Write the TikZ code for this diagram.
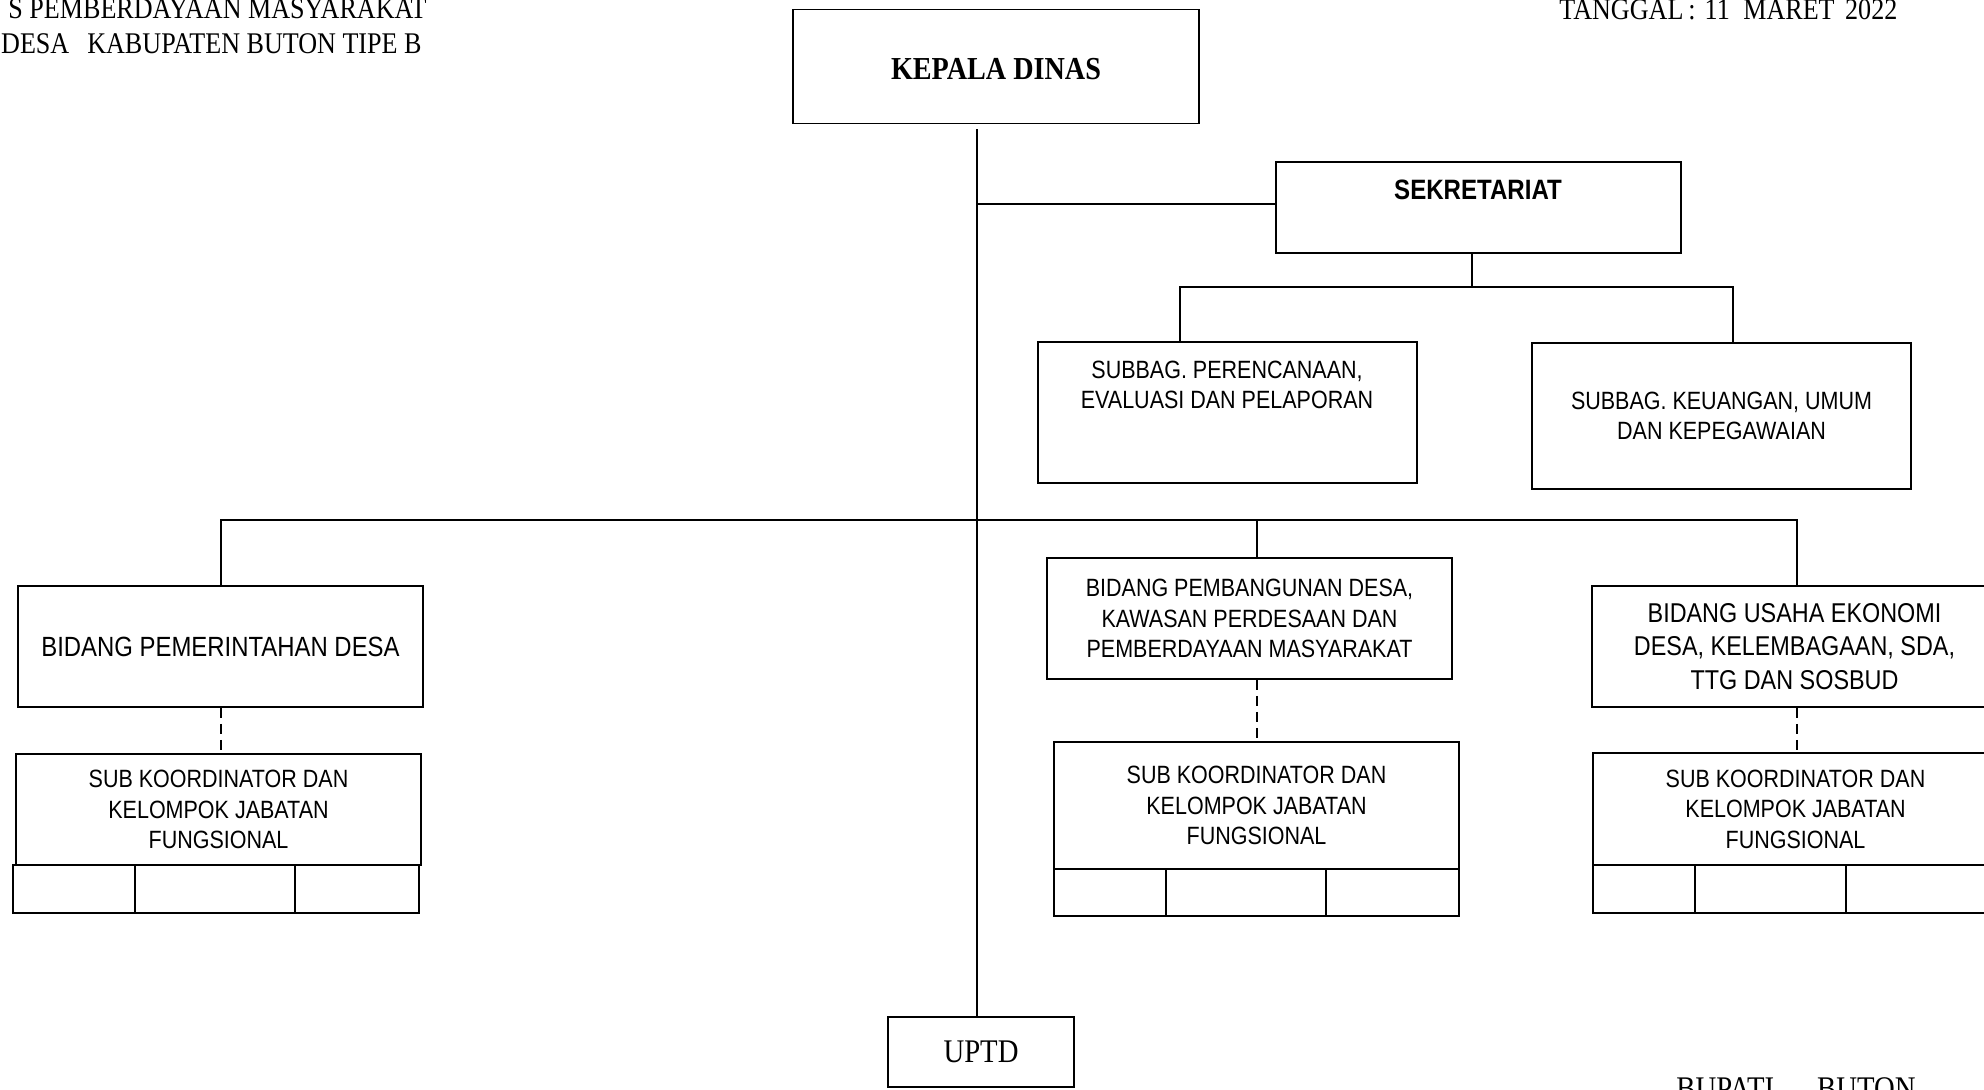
\documentclass[tikz,border=0pt]{standalone}
\usepackage{fontspec}
\newfontfamily\hdrfont[FakeStretch=0.87]{Liberation Serif}
\newfontfamily\kdfont[FakeStretch=0.88]{Liberation Serif}
\newfontfamily\boxfont[FakeStretch=0.86]{Liberation Sans}
\begin{document}
\begin{tikzpicture}[x=0.5pt,y=-0.5pt,
  box/.style={draw, line width=0.8pt, inner sep=0pt, align=center, font=\boxfont\fontsize{12.5}{15.25}\selectfont},
  cell/.style={draw, line width=0.8pt, inner sep=0pt},
  conn/.style={line width=0.8pt},
  dconn/.style={line width=0.8pt, dash pattern=on 5pt off 3pt},
  hdr/.style={inner sep=0pt, font=\hdrfont\fontsize{15}{18}\selectfont}]
\useasboundingbox (0,0) rectangle (1984,1089);

% header texts
\node[hdr, anchor=base east] (h1) at (427,18) {S PEMBERDAYAAN MASYARAKAT};
\node[hdr, anchor=base east] (h2) at (422,53) {DESA\hspace{0.6em}KABUPATEN BUTON TIPE B};
\node[hdr, anchor=base west] (tgl) at (1559,19) {TANGGAL\,:\hspace{0.3em}11\hspace{0.45em}MARET\hspace{0.35em}2022};
\node[hdr, anchor=base west, font=\hdrfont\fontsize{16.5}{19}\selectfont] (bup) at (1676,1099) {BUPATI\hspace{1.3em}BUTON};

% boxes
\node[box, minimum width=203pt, minimum height=57pt] (kd) at (996,66.5) {};
\node[inner sep=0pt, font=\kdfont\bfseries\fontsize{16}{19}\selectfont] (kdt) at (996,69) {KEPALA DINAS};

\node[box, minimum width=202.5pt, minimum height=45.5pt] (sek) at (1478.5,207.5) {};
\node[inner sep=0pt, font=\boxfont\bfseries\fontsize{14}{16}\selectfont] (sekt) at (1478,190) {SEKRETARIAT};

\node[box, minimum width=189.5pt, minimum height=70.5pt] (sp) at (1227.5,412.5) {};
\node[inner sep=0pt, align=center, font=\boxfont\fontsize{12.5}{15}\selectfont] (spt) at (1227,385) {SUBBAG. PERENCANAAN,\\EVALUASI DAN PELAPORAN};

\node[box, minimum width=189.5pt, minimum height=73pt, font=\boxfont\fontsize{12.5}{15}\selectfont] (sk) at (1721.5,416) {SUBBAG. KEUANGAN, UMUM\\DAN KEPEGAWAIAN};

\node[box, minimum width=202.5pt, minimum height=60.5pt, font=\boxfont\fontsize{13.9}{16}\selectfont] (bpd) at (220.5,646.5) {BIDANG PEMERINTAHAN DESA};
\node[box, minimum width=202.5pt, minimum height=55.5pt] (skl) at (218.5,809.5) {SUB KOORDINATOR DAN\\KELOMPOK JABATAN\\FUNGSIONAL};
\node[cell, minimum width=61pt, minimum height=24pt] (l1) at (74,889) {};
\node[cell, minimum width=80pt, minimum height=24pt] (l2) at (215,889) {};
\node[cell, minimum width=62pt, minimum height=24pt] (l3) at (357,889) {};

\node[box, minimum width=202.5pt, minimum height=60.5pt] (bpm) at (1249.5,618.5) {BIDANG PEMBANGUNAN DESA,\\KAWASAN PERDESAAN DAN\\PEMBERDAYAAN MASYARAKAT};
\node[box, minimum width=202.5pt, minimum height=63.5pt] (skm) at (1256.5,805.5) {SUB KOORDINATOR DAN\\KELOMPOK JABATAN\\FUNGSIONAL};
\node[cell, minimum width=56pt, minimum height=23.5pt] (m1) at (1110,892.5) {};
\node[cell, minimum width=80pt, minimum height=23.5pt] (m2) at (1246,892.5) {};
\node[cell, minimum width=66.5pt, minimum height=23.5pt] (m3) at (1392.5,892.5) {};

\node[box, minimum width=202.5pt, minimum height=60.5pt, font=\boxfont\fontsize{13.6}{16.75}\selectfont] (bue) at (1794.5,646.5) {BIDANG USAHA EKONOMI\\DESA, KELEMBAGAAN, SDA,\\TTG DAN SOSBUD};
\node[box, minimum width=202.5pt, minimum height=56pt] (skr) at (1795.5,809) {SUB KOORDINATOR DAN\\KELOMPOK JABATAN\\FUNGSIONAL};
\node[cell, minimum width=51pt, minimum height=24pt] (r1) at (1644,889) {};
\node[cell, minimum width=75.5pt, minimum height=24pt] (r2) at (1770.5,889) {};
\node[cell, minimum width=76pt, minimum height=24pt] (r3) at (1922,889) {};

\node[box, minimum width=93pt, minimum height=35pt, font=\hdrfont\fontsize{16.5}{19}\selectfont] (uptd) at (981,1052) {UPTD};

% connectors
\coordinate (t0) at (977,129);
\draw[conn] (t0) -- (t0 |- uptd.north);
\coordinate (js) at (977,204);
\draw[conn] (js) -- (js -| sek.west);
\coordinate (sbm) at (1472,287);
\coordinate (sbl) at (1180,287);
\coordinate (sbr) at (1733,287);
\draw[conn] (sbm |- sek.south) -- (sbm);
\draw[conn] (sbl |- sp.north) -- (sbl) -- (sbr) -- (sbr |- sk.north);
\coordinate (bl) at (221,520);
\coordinate (bm) at (1257,520);
\coordinate (br) at (1797,520);
\draw[conn] (bl |- bpd.north) -- (bl) -- (br) -- (br |- bue.north);
\draw[conn] (bm) -- (bm |- bpm.north);
\draw[dconn] (bl |- bpd.south) -- (bl |- skl.north);
\draw[dconn] (bm |- bpm.south) -- (bm |- skm.north);
\draw[dconn] (br |- bue.south) -- (br |- skr.north);
\end{tikzpicture}
\end{document}
